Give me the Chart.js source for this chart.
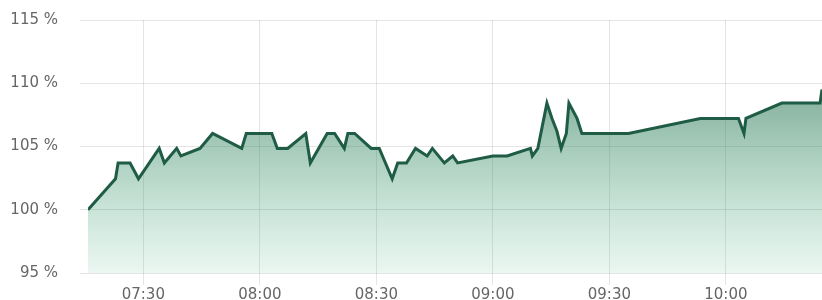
<!DOCTYPE html>
<html>
<head>
<meta charset="utf-8">
<script src="https://cdn.jsdelivr.net/npm/chart.js@4"></script>
<style>
    html, body { margin: 0; padding: 0; background: #fff; }
    #chart_wrap { width: 822px; height: 300px; }
</style>
</head>
<body>
<div id="chart_wrap"><canvas id="ratio_chart"></canvas></div>
<script>
// sample times (hh:mm:ss) and ratio values in %
var sampleTimes = [
    "07:15:45", "07:22:50", "07:23:30", "07:26:35", "07:28:45", "07:34:05", "07:35:25",
    "07:38:35", "07:39:40", "07:44:35", "07:47:50", "07:55:20", "07:56:30", "08:03:05",
    "08:04:30", "08:07:10", "08:11:50", "08:13:00", "08:17:20", "08:19:15", "08:21:45",
    "08:22:40", "08:24:25", "08:28:40", "08:30:45", "08:34:05", "08:35:30", "08:37:45",
    "08:40:05", "08:43:05", "08:44:25", "08:47:30", "08:49:40", "08:50:55", "09:00:00",
    "09:03:40", "09:09:40", "09:10:10", "09:11:35", "09:13:55", "09:15:15", "09:16:30",
    "09:17:35", "09:18:55", "09:19:35", "09:21:40", "09:22:55", "09:34:55", "09:53:25",
    "10:03:15", "10:04:40", "10:05:10", "10:14:25", "10:24:15", "10:24:45"
];

var ratioValues = [
    100, 102.45, 103.7, 103.7, 102.45, 104.85, 103.7,
    104.85, 104.25, 104.85, 106.03, 104.85, 106.03, 106.03,
    104.85, 104.85, 106.03, 103.7, 106.03, 106.03, 104.85,
    106.03, 106.03, 104.85, 104.85, 102.45, 103.7, 103.7,
    104.85, 104.25, 104.85, 103.7, 104.25, 103.7, 104.25,
    104.25, 104.85, 104.25, 104.85, 108.43, 107.2, 106.2,
    104.85, 106.03, 108.43, 107.22, 106.03, 106.03, 107.22,
    107.22, 106.03, 107.22, 108.43, 108.43, 109.5
];

var xTickLabels = ["07:30", "08:00", "08:30", "09:00", "09:30", "10:00"];
var yTickValues = [95, 100, 105, 110, 115];

function toMinutes(str) {
    var p = str.split(":").map(Number);
    return p[0] * 60 + p[1] + (p[2] || 0) / 60;
}

Chart.defaults.font.family = "'DejaVu Sans'";
Chart.defaults.font.size = 15;
Chart.defaults.color = "#666";

const ratioChartElement = document.getElementById("ratio_chart");

const ratioChart = new Chart(ratioChartElement, {
    type: "line",
    data: {
        datasets: [{
            data: sampleTimes.map((t, i) => ({ x: toMinutes(t), y: ratioValues[i] })),
            borderColor: "#1f5c45",
            borderWidth: 3,
            pointRadius: 0,
            tension: 0,
            fill: "start",
            backgroundColor: (ctx) => {
                const area = ctx.chart.chartArea;
                if (!area) return "rgba(31,92,69,0.3)";
                const g = ctx.chart.ctx.createLinearGradient(0, area.top, 0, area.bottom);
                g.addColorStop(0, "rgba(31,92,69,0.75)");
                g.addColorStop(1, "rgba(60,170,120,0.1)");
                return g;
            }
        }]
    },
    options: {
        responsive: true,
        maintainAspectRatio: false,
        animation: false,
        layout: {
            padding: { top: 20, right: 0, bottom: 0, left: 0 }
        },
        scales: {
            x: {
                type: "linear",
                min: toMinutes(sampleTimes[0]),
                max: toMinutes(sampleTimes[sampleTimes.length - 1]),
                afterBuildTicks: (axis) => {
                    axis.ticks = xTickLabels.map(l => ({ value: toMinutes(l) }));
                },
                afterFit: (axis) => {
                    axis.height = 27;
                    axis.paddingLeft = 0;
                    axis.paddingRight = 0;
                },
                ticks: {
                    autoSkip: false,
                    maxRotation: 0,
                    padding: 1,
                    callback: (value, index) => xTickLabels[index]
                },
                grid: {
                    color: "rgba(0,0,0,0.1)",
                    tickLength: 12
                },
                border: { display: false }
            },
            y: {
                min: yTickValues[0],
                max: yTickValues[yTickValues.length - 1],
                afterBuildTicks: (axis) => {
                    axis.ticks = yTickValues.map(v => ({ value: v }));
                },
                afterFit: (axis) => {
                    axis.width = 88;
                    axis.paddingTop = 0;
                    axis.paddingBottom = 0;
                },
                ticks: {
                    padding: 22,
                    callback: (value) => value + " %"
                },
                grid: {
                    color: "rgba(0,0,0,0.1)",
                    tickLength: 8
                },
                border: { display: false }
            }
        },
        plugins: {
            legend: { display: false },
            tooltip: { enabled: false }
        }
    }
});
</script>
</body>
</html>
